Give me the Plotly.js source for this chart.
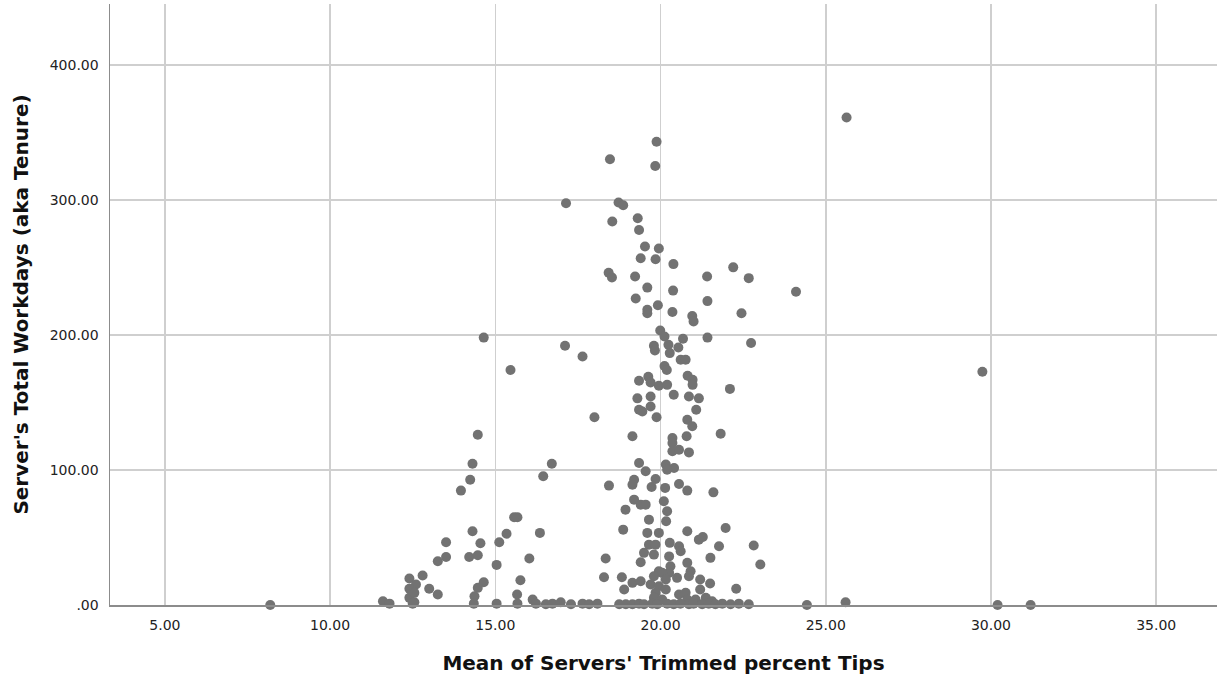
<!DOCTYPE html>
<html>
<head>
<meta charset="utf-8">
<script src="https://cdn.plot.ly/plotly-3.0.1.min.js"></script>
<style>html,body{margin:0;padding:0;background:#fff;}#chart{width:1221px;height:683px;}</style>
</head>
<body>
<div id="chart"></div>
<script>
// Mean of Servers' Trimmed percent Tips
const tipPct = [
  8.19, 25.63, 24.1, 29.74, 24.43, 25.6, 30.2, 31.2,
  11.6, 11.8, 12.4, 12.8, 12.6, 12.4, 13.0, 13.26, 12.4, 12.5, 12.55, 12.55,
  14.47, 14.31, 14.24, 13.96, 16.71, 16.45, 18.0, 18.44, 15.67, 15.57, 15.34, 15.12, 15.04, 15.76, 15.66, 15.67, 15.04,
  16.35, 16.03, 14.31, 14.55, 14.21, 14.47, 13.51, 13.51, 13.26, 14.65, 14.47, 14.37, 14.35, 16.13,
  16.23, 16.53, 16.73, 16.98, 17.29, 17.64, 17.84, 18.09,
  18.34, 18.29, 18.83, 18.94, 18.87, 19.15, 18.9, 19.15, 18.75, 18.95, 19.15,
  18.47, 17.14, 18.73, 18.87, 18.54, 18.43, 18.53, 14.65, 17.11, 17.64, 15.46,
  19.88, 19.84, 19.31, 19.35, 19.53, 19.95, 19.40, 19.85, 20.39, 22.2, 22.67, 21.41, 19.23, 19.6, 20.38, 19.25, 21.42,
  19.6, 19.6, 19.92, 20.36, 20.96, 21.0, 22.45, 19.99, 20.12, 20.68, 21.42, 22.74, 19.8, 19.83, 20.24, 20.28, 20.54,
  20.61, 20.76, 20.12, 20.19, 20.82, 20.97, 20.97, 19.35, 19.63, 19.7, 19.95, 20.2, 22.1, 19.3, 19.7, 20.4, 20.86, 21.16,
  19.35, 19.7, 19.45, 21.08, 19.88, 20.81, 20.96, 20.79, 21.82, 20.36, 20.36, 20.36, 20.56, 20.86,
  19.35, 19.55, 20.16, 20.41, 20.2, 19.2, 19.15, 19.73, 19.85, 20.14, 20.56, 20.81, 21.6,
  19.2, 19.4, 19.55, 20.1, 20.2, 20.17, 19.65, 19.6, 19.95, 20.81, 21.16, 21.28, 21.97, 21.77, 22.82, 23.02, 21.51,
  19.4, 19.65, 19.85, 19.5, 19.8, 20.28, 20.56, 20.61, 20.26, 20.3, 20.26, 20.81, 20.91, 20.86,
  19.4, 19.95, 20.05, 19.8, 20.16, 20.5, 19.7, 19.95, 19.85, 20.16, 19.8, 20.05,
  21.2, 21.2, 21.5, 22.29, 20.56, 20.76, 20.81, 21.06, 21.37, 21.56,
  19.35, 19.5, 19.75, 19.9, 20.2, 20.4, 20.6, 20.86, 21.0, 21.26, 21.46, 21.66, 21.87, 22.12, 22.37, 22.67
];
// Server's Total Workdays (aka Tenure)
const workdays = [
  0, 361, 232, 172.7, 0, 2, 0, 0,
  2.8, 1, 19.6, 21.8, 15.2, 12, 12, 7.8, 5.3, 1, 9, 2,
  126, 104.6, 92.8, 84.7, 104.6, 95.3, 139, 88.4, 65, 65, 52.7, 46.5, 29.7, 18.3, 7.8, 1, 1,
  53.4, 34.4, 54.6, 45.7, 35.6, 36.8, 46.5, 35.6, 32.4, 16.9, 12.7, 6.5, 1, 4,
  1, 0.5, 1, 2, 0.5, 1, 0.5, 1,
  34.4, 20.6, 20.6, 70.6, 55.8, 124.9, 11.5, 16.4, 0.5, 0.5, 0.5,
  330, 297.5, 298, 296, 284, 246, 242.5, 198, 192, 184, 174,
  343, 325, 286.4, 277.7, 265.4, 264, 256.8, 256, 252.4, 250, 242, 243.2, 243.2, 235, 232.8, 227, 225,
  218.6, 216, 222, 216.9, 214, 210, 216, 203.3, 198.8, 197.1, 198, 194, 192, 188.5, 192.7, 186.5, 190.7,
  181.6, 181.6, 177, 174, 169.7, 166.8, 163, 166, 169, 164.8, 162.4, 163, 160, 153, 154.4, 155.7, 154.4, 153,
  144.6, 147, 143.3, 144.6, 139, 137.2, 132.3, 125, 126.8, 123.7, 120, 113.8, 115, 113,
  105.2, 99, 104, 101.5, 100.2, 92.8, 89, 87.4, 93.3, 86.7, 89.6, 84.7, 83.4,
  78, 74.3, 74.3, 76.8, 69.4, 62, 63.2, 53.4, 53.4, 54.6, 48.4, 50.4, 57, 43.5, 44, 30, 34.9,
  31.7, 44.7, 44.7, 38.6, 37.3, 46, 43.5, 39.8, 36, 28.7, 23.8, 31.2, 25, 21.3,
  17.6, 25, 23.8, 21.3, 18.9, 20.1, 15.2, 13.9, 9, 11.5, 5.3, 4,
  18.9, 11.5, 15.9, 12, 7.8, 9, 4, 4, 5.3, 2.8,
  1, 0.5, 1, 0.5, 1, 0.5, 1, 0.5, 1, 0.5, 1, 0.5, 1, 0.5, 1, 0.5
];
const xTickVals = [5, 10, 15, 20, 25, 30, 35];
const xTickText = ['5.00', '10.00', '15.00', '20.00', '25.00', '30.00', '35.00'];
const yTickVals = [0, 100, 200, 300, 400];
const yTickText = ['.00', '100.00', '200.00', '300.00', '400.00'];

const FONT = 'DejaVu Sans, Verdana, sans-serif';
const trace = {
  type: 'scatter', mode: 'markers',
  x: tipPct, y: workdays,
  marker: {size: 10, color: '#727272', line: {width: 0}},
  cliponaxis: false,
  hoverinfo: 'x+y'
};
const layout = {
  width: 1221, height: 683,
  margin: {l: 110, r: 4, t: 4, b: 78},
  paper_bgcolor: '#ffffff', plot_bgcolor: '#ffffff',
  showlegend: false,
  font: {family: FONT, color: '#222222', size: 14},
  xaxis: {
    range: [3.34, 36.84], tickvals: xTickVals, ticktext: xTickText,
    showgrid: true, gridcolor: '#cfcfcf', gridwidth: 1.5,
    zeroline: false, showline: true, linecolor: '#8c8c8c', linewidth: 1.5,
    ticks: 'outside', ticklen: 7, tickcolor: 'rgba(0,0,0,0)',
    tickfont: {size: 14, color: '#222222', family: FONT},
    automargin: false,
    title: {text: "Mean of Servers' Trimmed percent Tips", standoff: 23,
            font: {size: 20, color: '#111111', family: FONT, weight: 'bold'}}
  },
  yaxis: {
    range: [0, 445], tickvals: yTickVals, ticktext: yTickText,
    showgrid: true, gridcolor: '#cfcfcf', gridwidth: 1.5,
    zeroline: false, showline: true, linecolor: '#8c8c8c', linewidth: 1.5,
    ticks: 'outside', ticklen: 7, tickcolor: 'rgba(0,0,0,0)',
    tickfont: {size: 14, color: '#222222', family: FONT},
    automargin: false,
    title: {text: "Server's Total Workdays (aka Tenure)", standoff: 15,
            font: {size: 20, color: '#111111', family: FONT, weight: 'bold'}}
  }
};
Plotly.newPlot('chart', [trace], layout, {displayModeBar: false, staticPlot: true});
</script>
</body>
</html>
